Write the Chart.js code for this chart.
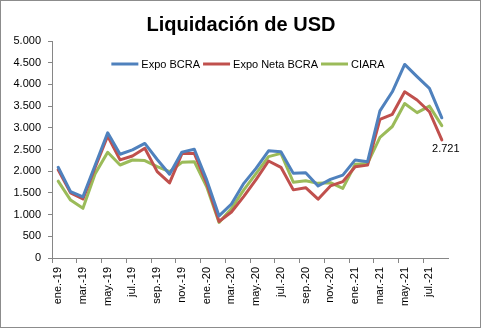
<!DOCTYPE html>
<html>
<head>
<meta charset="utf-8">
<script src="https://cdn.jsdelivr.net/npm/chart.js@4"></script>
<style>
html,body{margin:0;padding:0;background:#fff;}
#wrap{position:relative;width:481px;height:328px;}
</style>
</head>
<body>
<div id="wrap"><canvas id="c" width="481" height="328"></canvas></div>
<script>
const categories = [
  "ene.-19","feb.-19","mar.-19","abr.-19","may.-19","jun.-19","jul.-19","ago.-19","sep.-19","oct.-19","nov.-19","dic.-19",
  "ene.-20","feb.-20","mar.-20","abr.-20","may.-20","jun.-20","jul.-20","ago.-20","sep.-20","oct.-20","nov.-20","dic.-20",
  "ene.-21","feb.-21","mar.-21","abr.-21","may.-21","jun.-21","jul.-21","ago.-21"
];
const expoBCRA = [
  2090,1530,1410,2150,2885,2390,2490,2640,2270,1930,2440,2505,
  1800,970,1244,1720,2070,2470,2450,1950,1965,1660,1810,1910,
  2260,2220,3390,3830,4460,4180,3910,3230
];
const expoNetaBCRA = [
  2030,1500,1360,2100,2810,2260,2350,2527,1990,1730,2405,2410,
  1720,840,1060,1420,1810,2235,2090,1570,1620,1355,1660,1760,
  2104,2140,3195,3310,3830,3640,3370,2721
];
const ciara = [
  1770,1335,1145,1950,2435,2143,2258,2245,2104,1990,2204,2220,
  1640,820,1140,1570,1950,2335,2410,1745,1780,1720,1736,1605,
  2160,2180,2780,3030,3560,3350,3500,3050
];
const yTicks = [0,500,1000,1500,2000,2500,3000,3500,4000,4500,5000];
const titleText = "Liquidación de USD";
const dataLabelText = "2.721";

const FONT = "'Liberation Sans', Arial, sans-serif";
const AXIS = '#868686';

const framePlugin = {
  id: 'frame',
  afterDraw(chart){
    const ctx = chart.ctx;
    ctx.save();
    ctx.strokeStyle = '#8c8c8c';
    ctx.lineWidth = 1;
    ctx.strokeRect(0.5,0.5,chart.width-1,chart.height-1);
    // title
    ctx.font = "bold 20px " + FONT;
    ctx.fillStyle = '#000';
    ctx.textAlign = 'center';
    ctx.textBaseline = 'middle';
    ctx.fillText(titleText, 241, 25);
    // legend
    ctx.font = "11px " + FONT;
    ctx.textAlign = 'left';
    const ds = chart.data.datasets;
    const lineW = 27, gap = 3, itemGap = 3;
    let total = 0;
    ds.forEach((d,i) => { total += lineW + gap + ctx.measureText(d.label).width + (i < ds.length-1 ? itemGap : 0); });
    const ca = chart.chartArea;
    let x = (ca.left + ca.right)/2 - total/2 - 2;
    const y = ca.top + 23;
    ds.forEach((d) => {
      ctx.strokeStyle = d.borderColor;
      ctx.lineWidth = 3;
      ctx.beginPath();
      ctx.moveTo(x, y);
      ctx.lineTo(x + lineW, y);
      ctx.stroke();
      x += lineW + gap;
      ctx.fillStyle = '#000';
      ctx.fillText(d.label, x, y + 1);
      x += ctx.measureText(d.label).width + itemGap;
    });
    ctx.restore();
  }
};
const labelPlugin = {
  id: 'lastLabel',
  afterDatasetsDraw(chart){
    const meta = chart.getDatasetMeta(1);
    const pt = meta.data[meta.data.length-1];
    const ctx = chart.ctx;
    ctx.save();
    ctx.font = "11px " + FONT;
    ctx.fillStyle = '#000';
    ctx.textAlign = 'center';
    ctx.textBaseline = 'middle';
    ctx.fillText(dataLabelText, pt.x + 4, pt.y + 9);
    ctx.restore();
  }
};

new Chart(document.getElementById('c'), {
  type: 'line',
  data: {
    labels: categories,
    datasets: [
      {label:'Expo BCRA', data: expoBCRA, borderColor:'#4F81BD', backgroundColor:'#4F81BD'},
      {label:'Expo Neta BCRA', data: expoNetaBCRA, borderColor:'#C0504D', backgroundColor:'#C0504D'},
      {label:'CIARA', data: ciara, borderColor:'#9BBB59', backgroundColor:'#9BBB59'}
    ]
  },
  options: {
    responsive: false,
    animation: false,
    devicePixelRatio: 1,
    elements: {
      line: {borderWidth: 3, tension: 0, borderCapStyle:'round', borderJoinStyle:'round'},
      point: {radius: 0, hoverRadius: 0}
    },
    layout: {padding: {top: 41, left: 8, right: 33, bottom: 10}},
    plugins: {
      title: {display: false},
      legend: {display: false},
      tooltip: {enabled: false}
    },
    scales: {
      x: {
        offset: true,
        grid: {
          offset: true,
          drawOnChartArea: false,
          tickLength: 5,
          color: (c) => (c.index % 2 === 0 ? AXIS : 'rgba(0,0,0,0)')
        },
        border: {color: AXIS, width: 1},
        ticks: {
          autoSkip: false,
          maxRotation: 90,
          minRotation: 90,
          padding: 4,
          color: '#000',
          font: {family: FONT, size: 11},
          callback: function(v, i){ return i % 2 === 0 ? categories[i] : ''; }
        },
        afterFit: (s) => { s.height = 60; }
      },
      y: {
        min: yTicks[0],
        max: yTicks[yTicks.length-1],
        afterBuildTicks: (s) => { s.ticks = yTicks.map(v => ({value: v})); },
        grid: {drawOnChartArea: false, tickLength: 4, color: AXIS},
        border: {color: AXIS, width: 1},
        ticks: {
          padding: 7,
          color: '#000',
          font: {family: FONT, size: 11},
          callback: (v) => String(v).replace(/\B(?=(\d{3})+(?!\d))/g, '.')
        },
        afterFit: (s) => { s.width = 44; }
      }
    }
  },
  plugins: [labelPlugin, framePlugin]
});
</script>
</body>
</html>
